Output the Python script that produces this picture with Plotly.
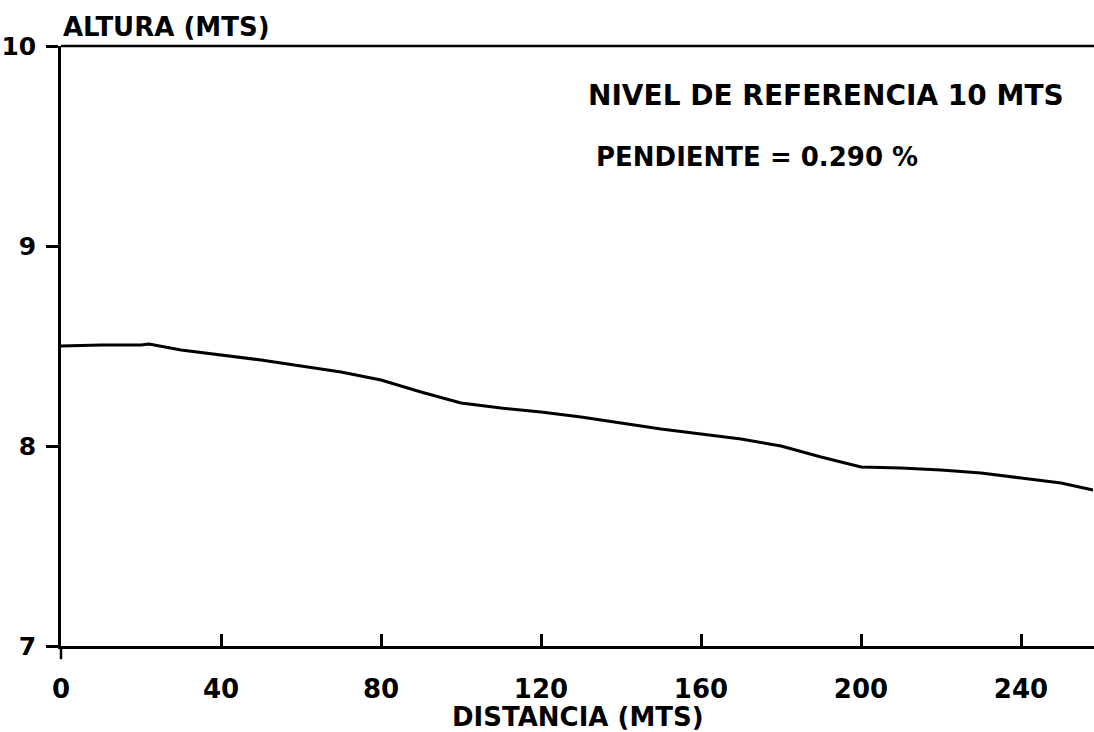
import plotly.graph_objects as go

# Data
distancia = [0, 10, 20, 22, 30, 40, 50, 60, 70, 80, 90, 100, 110, 120, 130, 140,
             150, 160, 170, 180, 190, 200, 210, 220, 230, 240, 250, 258]
altura = [8.50, 8.505, 8.505, 8.51, 8.48, 8.455, 8.43, 8.40, 8.37, 8.33, 8.27, 8.215,
          8.19, 8.17, 8.145, 8.115, 8.085, 8.06, 8.035, 8.00, 7.945, 7.895, 7.89,
          7.88, 7.865, 7.84, 7.815, 7.78]

x_ticks = [0, 40, 80, 120, 160, 200, 240]
y_ticks = [7, 8, 9, 10]

FONT = "DejaVu Sans"

fig = go.Figure()
fig.add_trace(go.Scatter(x=distancia, y=altura, mode="lines",
                         line=dict(color="black", width=3), showlegend=False,
                         hoverinfo="skip"))

fig.update_layout(
    width=1094, height=732,
    margin=dict(l=61, r=0, t=46, b=86),
    paper_bgcolor="white", plot_bgcolor="white",
    font=dict(family=FONT, color="black", size=24, weight="bold"),
    xaxis=dict(range=[0, 258.25], tickvals=x_ticks, ticktext=[str(v) for v in x_ticks],
               ticks="inside", ticklen=12, tickwidth=2.5, tickcolor="black",
               showline=True, linecolor="black", linewidth=2.5,
               showgrid=False, zeroline=False, automargin=False,
               tickfont=dict(family=FONT, size=26, color="black", weight="bold"),
               ticklabelstandoff=18),
    yaxis=dict(range=[7, 10], tickvals=y_ticks, ticktext=[str(v) for v in y_ticks],
               ticks="outside", ticklen=12, tickwidth=2.5, tickcolor="black",
               showline=True, linecolor="black", linewidth=2.5,
               showgrid=False, zeroline=False, automargin=False,
               tickfont=dict(family=FONT, size=25, color="black", weight="bold"),
               ticklabelstandoff=5),
)

# top border line and the origin cross extension
fig.add_shape(type="line", xref="paper", yref="paper", x0=0, x1=1, y0=1, y1=1,
              line=dict(color="black", width=2.5))
fig.add_shape(type="line", xref="paper", yref="paper", x0=0, x1=0, y0=0, y1=-0.022,
              line=dict(color="black", width=2.5))

fig.add_annotation(text="ALTURA (MTS)", xref="paper", yref="paper", x=0.0, y=1.0317,
                   xanchor="left", yanchor="middle", showarrow=False,
                   font=dict(family=FONT, size=26, color="black", weight="bold"))
fig.add_annotation(text="DISTANCIA (MTS)", xref="paper", yref="paper", x=0.5, y=-0.118,
                   xanchor="center", yanchor="middle", showarrow=False,
                   font=dict(family=FONT, size=26, color="black", weight="bold"))
fig.add_annotation(text="NIVEL DE REFERENCIA 10 MTS", xref="paper", yref="paper",
                   x=0.508, y=0.918, xanchor="left", yanchor="middle", showarrow=False,
                   font=dict(family=FONT, size=28, color="black", weight="bold"))
fig.add_annotation(text="PENDIENTE = 0.290 %", xref="paper", yref="paper",
                   x=0.5155, y=0.815, xanchor="left", yanchor="middle", showarrow=False,
                   font=dict(family=FONT, size=26, color="black", weight="bold"))

fig.write_html("out.html")
